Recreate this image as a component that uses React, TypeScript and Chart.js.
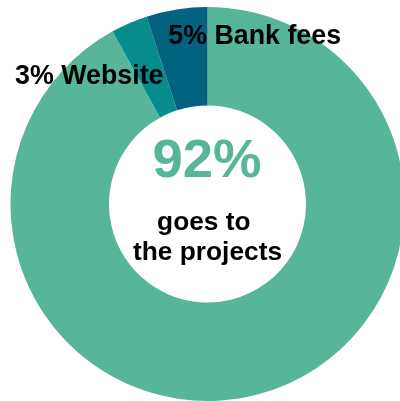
import React, { useEffect, useRef } from "react";
import { Chart, registerables } from "chart.js";

Chart.register(...registerables);

const categories = ["goes to the projects", "Website", "Bank fees"];
const values = [92, 3, 5];
const colors = ["#57B69A", "#068C8D", "#03627F"];
const centerLines = ["goes to ", "the projects"];

const FONT = '"Liberation Sans", Arial, sans-serif';

const labelPlugin = {
  id: "labelPlugin",
  afterDraw(chart: any) {
    const { ctx } = chart;
    const meta = chart.getDatasetMeta(0);
    const arc0 = meta.data[0];
    const cx = arc0.x;
    const cy = arc0.y;
    const R = arc0.outerRadius;
    ctx.save();
    ctx.textBaseline = "alphabetic";
    const anchors: Record<number, [number, number]> = {
      1: [-0.977, -0.609],
      2: [-0.199, -0.811],
    };
    ctx.fillStyle = "#000000";
    ctx.font = `bold 26.8px ${FONT}`;
    ctx.textAlign = "left";
    [1, 2].forEach((i) => {
      const [fx, fy] = anchors[i];
      ctx.fillText(`${values[i]}% ${categories[i]}`, cx + fx * R, cy + fy * R);
    });
    ctx.textAlign = "center";
    ctx.fillStyle = colors[0];
    ctx.font = `bold 54.5px ${FONT}`;
    ctx.fillText(`${values[0]}%`, cx - 0.5, cy - 26.7);
    ctx.fillStyle = "#000000";
    ctx.font = `bold 26.3px ${FONT}`;
    ctx.fillText(centerLines[0], cx, cy + 26);
    ctx.fillText(centerLines[1], cx, cy + 56);
    ctx.restore();
  },
};

export default function App() {
  const ref = useRef<HTMLCanvasElement>(null);
  useEffect(() => {
    if (!ref.current) return;
    const chart = new Chart(ref.current, {
      type: "doughnut",
      data: {
        labels: categories,
        datasets: [
          {
            data: values,
            backgroundColor: colors,
            borderWidth: 0,
          },
        ],
      },
      options: {
        responsive: false,
        animation: false,
        cutout: "50%",
        layout: { padding: 7 },
        plugins: {
          legend: { display: false },
          tooltip: { enabled: false },
        },
      },
      plugins: [labelPlugin],
    });
    return () => chart.destroy();
  }, []);
  return (
    <div
      style={{
        position: "absolute",
        left: 0,
        top: 0,
        width: 400,
        height: 401,
        overflow: "hidden",
        background: "#ffffff",
      }}
    >
      <canvas
        ref={ref}
        width={415}
        height={408}
        style={{ display: "block", width: 415, height: 408 }}
      />
    </div>
  );
}
